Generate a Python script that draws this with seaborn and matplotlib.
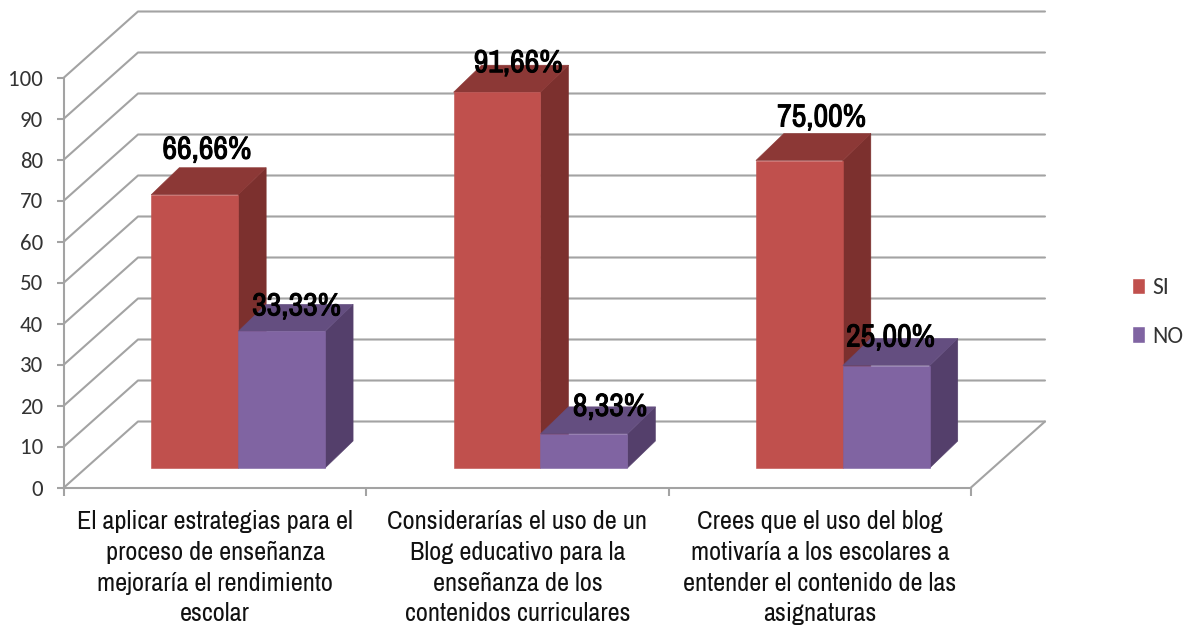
import pandas as pd
import matplotlib.pyplot as plt
import matplotlib.patheffects as pe
import seaborn as sns
from matplotlib import font_manager
from matplotlib.patches import Polygon

sns.set_style('white')

categorias = [
    'El aplicar estrategias para el\nproceso de enseñanza\nmejoraría el rendimiento\nescolar',
    'Considerarías el uso de un\nBlog educativo para la\nenseñanza de los\ncontenidos curriculares',
    'Crees que el uso del blog\nmotivaría a los escolares a\nentender el contenido de las\nasignaturas',
]
series = ['SI', 'NO']
valores_si = [66.66, 91.66, 75.00]
valores_no = [33.33, 8.33, 25.00]
etiquetas_si = ['66,66%', '91,66%', '75,00%']
etiquetas_no = ['33,33%', '8,33%', '25,00%']
ticks_y = [0, 10, 20, 30, 40, 50, 60, 70, 80, 90, 100]

colores = {'SI': '#C0504D', 'NO': '#8064A2'}
lateral = {'SI': '#7C302E', 'NO': '#543F6B'}
superior = {'SI': '#8C3836', 'NO': '#644E80'}
gris = '#A3A3A3'

# fuentes estrechas si existen; si no, Liberation Sans algo mas pequena
nombres = {f.name for f in font_manager.fontManager.ttflist}
if 'Archivo Narrow' in nombres:
    estrecha, tam_x, tam_dato, trazo, interlineado = 'Archivo Narrow', 19, 23, 0.7, 1.4
else:
    estrecha, tam_x, tam_dato, trazo, interlineado = 'Liberation Sans', 16, 19, 0.6, 1.7
calibri = 'Carlito' if 'Carlito' in nombres else 'Open Sans'
tam_calibri = 16.5 if calibri == 'Carlito' else 14.5

df = pd.DataFrame({
    'categoria': categorias * 2,
    'serie': ['SI'] * 3 + ['NO'] * 3,
    'valor': valores_si + valores_no,
})

W, H = 1195, 626
fig = plt.figure(figsize=(W / 100, H / 100), dpi=100)
ax = fig.add_axes([64 / W, (H - 487.5) / H, 907 / W, 410 / H])

sns.barplot(data=df, x='categoria', y='valor', hue='serie', hue_order=series,
            palette=colores, saturation=1, width=0.575, gap=0, ax=ax)
ax.set_xlim(-0.5, 2.5)
ax.set_ylim(0, 100)
ax.set_xlabel('')
ax.set_ylabel('')

# paso de pixeles a unidades de datos
px_x = 3 / 907
px_y = 100 / 410

# pared del fondo y lateral
fondo_x, fondo_y = 74 * px_x, 66 * px_y
for v in ticks_y:
    ax.plot([-0.5, -0.5 + fondo_x, 2.5 + fondo_x], [v, v + fondo_y, v + fondo_y],
            color=gris, lw=1.5, clip_on=False, zorder=1)
ax.plot([2.5, 2.5 + fondo_x], [0, fondo_y], color=gris, lw=1.5, clip_on=False, zorder=1)

# barras en 3D: cara frontal de seaborn, desplazada, con lateral y tapa
desp_x, desp_y = 23 * px_x, 19.5 * px_y
prof_x, prof_y = 28 * px_x, 27 * px_y
offsets_etiqueta = [(12, 45), (21, 29), (22, 43), (15, 25), (26, 27), (4, 28)]
etiquetas = etiquetas_si + etiquetas_no
for i, bar in enumerate(ax.patches[:6]):
    serie = series[i // 3]
    z = 3 + i // 3
    x0, x1 = bar.get_x() + desp_x, bar.get_x() + bar.get_width() + desp_x
    y0, y1 = desp_y, bar.get_height() + desp_y
    bar.set_x(x0)
    bar.set_y(y0)
    bar.set_zorder(z + 0.2)
    bar.set_edgecolor(colores[serie])
    bar.set_linewidth(0.4)
    lado = [(x1, y0), (x1 + prof_x, y0 + prof_y), (x1 + prof_x, y1 + prof_y), (x1, y1)]
    tapa = [(x0, y1), (x1, y1), (x1 + prof_x, y1 + prof_y), (x0 + prof_x, y1 + prof_y)]
    ax.add_patch(Polygon(lado, closed=True, fc=lateral[serie], ec=lateral[serie], lw=0.4,
                         clip_on=False, zorder=z))
    ax.add_patch(Polygon(tapa, closed=True, fc=superior[serie], ec=superior[serie], lw=0.4,
                         clip_on=False, zorder=z + 0.1))
    dx, dy = offsets_etiqueta[i]
    ax.annotate(etiquetas[i], ((x0 + x1) / 2, y1), xytext=(dx, dy), textcoords='offset pixels',
                ha='center', va='center', fontsize=tam_dato, color='black', family=estrecha,
                annotation_clip=False, zorder=10,
                path_effects=[pe.withStroke(linewidth=trazo, foreground='black')])

# ejes
sns.despine(ax=ax)
for lado_eje in ['left', 'bottom']:
    ax.spines[lado_eje].set_color(gris)
    ax.spines[lado_eje].set_linewidth(1.5)
    ax.spines[lado_eje].set_zorder(2)
ax.set_yticks(ticks_y)
ax.tick_params(axis='y', left=True, length=5, width=1.5, color=gris, pad=10,
               labelsize=tam_calibri, labelcolor='#333333')
for t in ax.get_yticklabels():
    t.set_family(calibri)
ax.set_xticks([-0.5, 0.5, 1.5, 2.5], minor=True)
ax.tick_params(axis='x', which='minor', bottom=True, length=6, width=1.5, color=gris)
ax.tick_params(axis='x', which='major', bottom=False, length=0, pad=16.5, labelsize=tam_x,
               labelcolor='#111111')
for t in ax.get_xticklabels():
    t.set_family(estrecha)
    t.set_linespacing(interlineado)
    t.set_ha('center')

# leyenda
handles, labels = ax.get_legend_handles_labels()
ax.get_legend().remove()
fig.legend(handles, labels, loc='center left', bbox_to_anchor=(1111 / W, (H - 312) / H),
           frameon=False, prop={'family': calibri, 'size': 17}, labelcolor='#333333',
           handlelength=0.55, handleheight=0.7, handletextpad=0.3, labelspacing=1.18)

fig.savefig('out.png', dpi=100)
